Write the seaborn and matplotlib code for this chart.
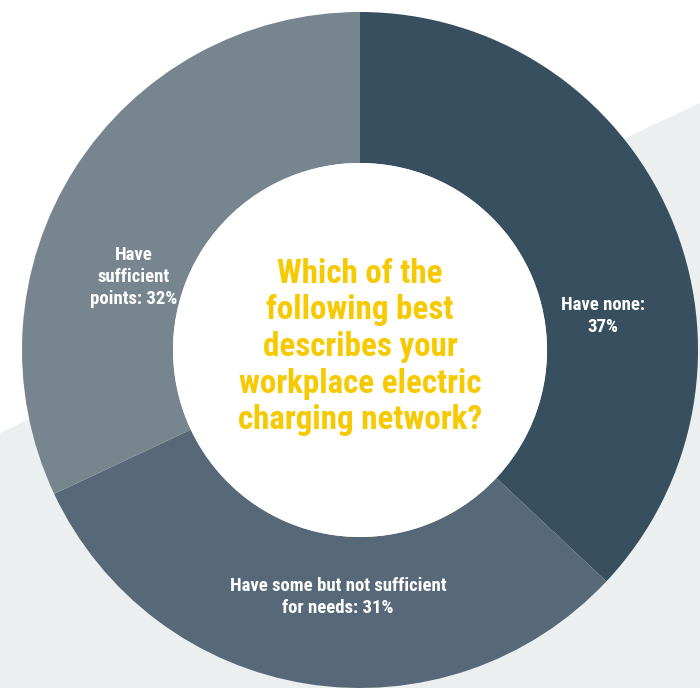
import matplotlib
matplotlib.use("Agg")
import matplotlib.pyplot as plt
from matplotlib import font_manager
from matplotlib.patches import Polygon, Circle
import seaborn as sns

# Survey answers, clockwise from the top
categories = ["Have none", "Have some but not sufficient for needs", "Have sufficient points"]
shares = [37, 31, 32]
slice_labels = ["Have none:\n37%", "Have some but not sufficient\nfor needs: 31%", "Have\nsufficient\npoints: 32%"]
question = "Which of the\nfollowing best\ndescribes your\nworkplace electric\ncharging network?"

sns.set_style("white")
colors = sns.color_palette(["#374f5e", "#576878", "#77858f"])

# pick a narrow face when one is installed
fonts = font_manager.fontManager.ttflist
names = {f.name for f in fonts}
family = "DejaVu Sans"
for cand in ["Roboto Condensed", "Liberation Sans Narrow", "Open Sans Condensed",
             "Noto Sans Condensed", "DejaVu Sans Condensed"]:
    if cand in names:
        family = cand
        break
plt.rcParams["font.family"] = [family, "DejaVu Sans"]
stretch = "condensed"

W, H = 700, 688
fig = plt.figure(figsize=(W / 100, H / 100), dpi=100)
ax = fig.add_axes([0, 0, 1, 1])
fig.patch.set_facecolor("white")

# light diagonal backdrop in the lower right
ax.add_patch(Polygon([(0, H - 433), (W, H - 103), (W, 0), (0, 0)],
                     closed=True, facecolor="#ebeff0", edgecolor="none", zorder=0))

cx, cy, R, r = 360, H - 350, 338, 187
ax.pie(shares, colors=colors, startangle=90, counterclock=False,
       center=(cx, cy), radius=R, frame=True,
       wedgeprops=dict(width=R - r, edgecolor="none", linewidth=0, zorder=1))
ax.add_patch(Circle((cx, cy), r, facecolor="white", edgecolor="none", zorder=2))

ax.set_xlim(0, W)
ax.set_ylim(0, H)
ax.set_aspect("auto")
ax.axis("off")

label_pos = [(603, 316), (338, 597), (134, 277)]
for text, (x, y) in zip(slice_labels, label_pos):
    ax.text(x, H - y, text, ha="center", va="center", color="white",
            fontsize=13.5, fontweight="bold", fontstretch=stretch,
            linespacing=1.28, zorder=3)

ax.text(cx, H - 347, question, ha="center", va="center", color="#f7c900",
        fontsize=23.8, fontweight="bold", fontstretch=stretch,
        linespacing=1.18, zorder=3)

fig.savefig("out.png", dpi=100, facecolor="white")
